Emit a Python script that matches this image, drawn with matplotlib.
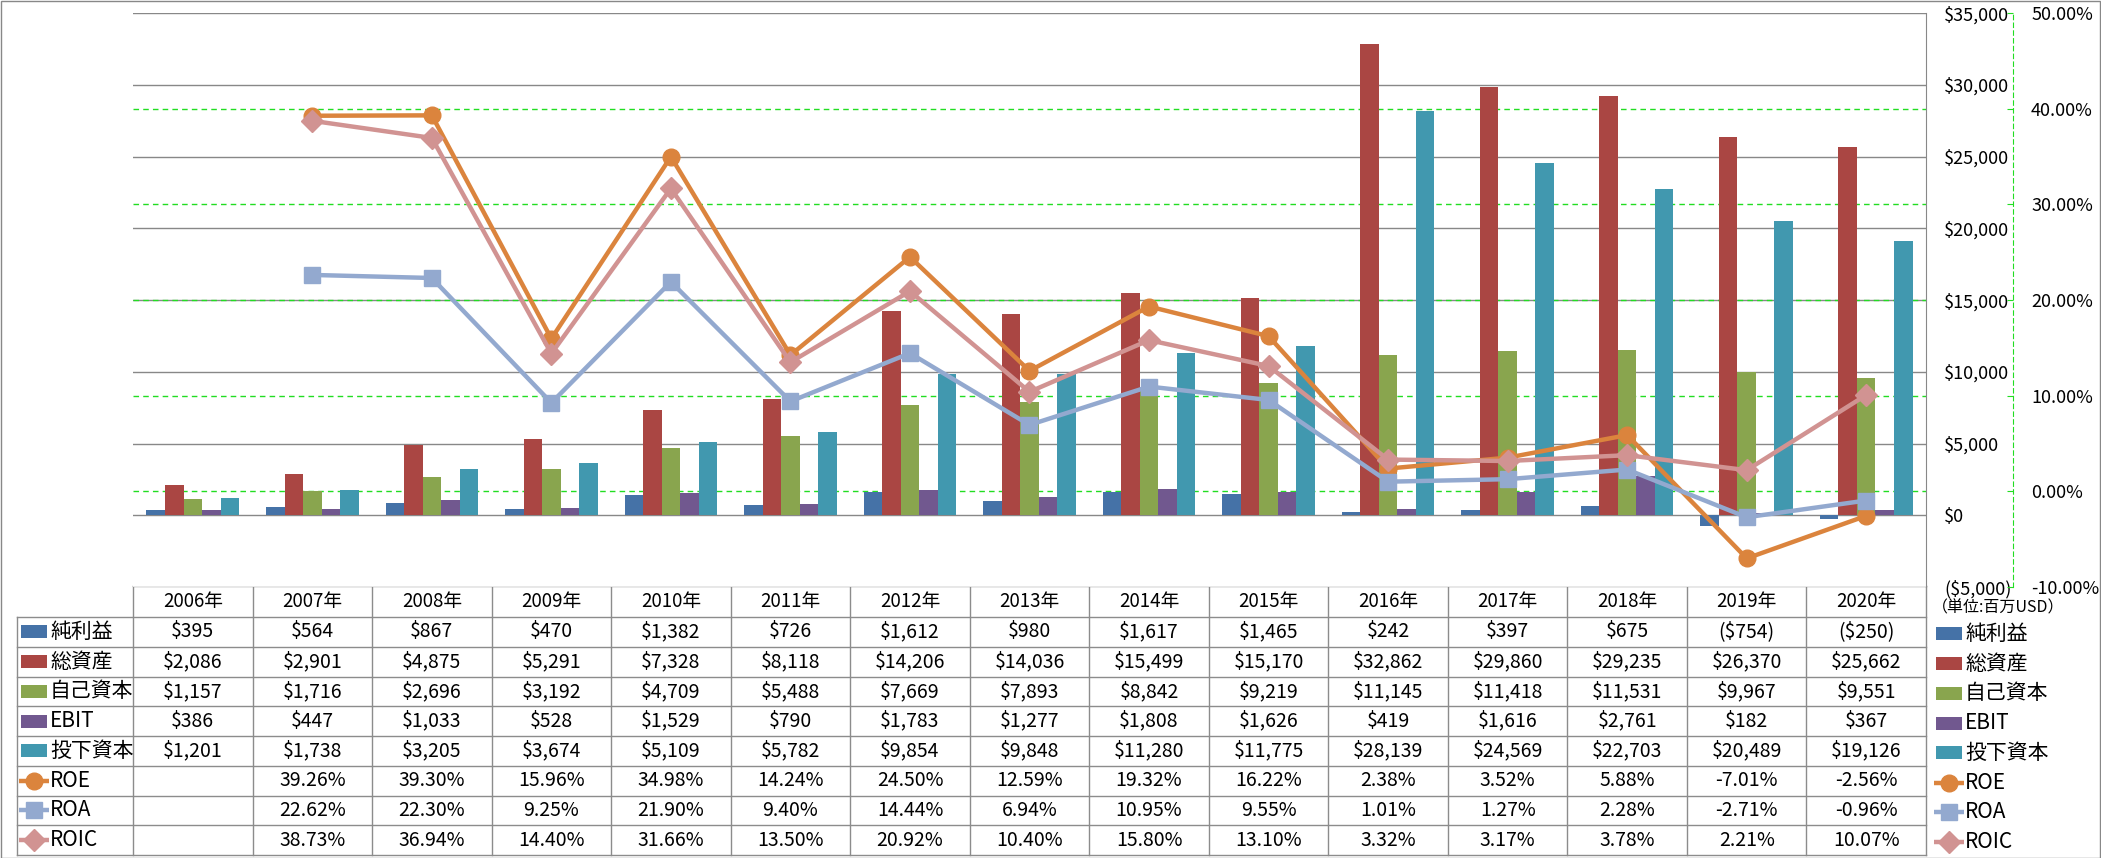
import numpy as np
import matplotlib
matplotlib.use("Agg")
import matplotlib.pyplot as plt
from matplotlib.patches import Rectangle
from matplotlib.lines import Line2D
from matplotlib.transforms import blended_transform_factory

plt.rcParams['font.family'] = ['Noto Sans CJK JP', 'DejaVu Sans']

# -------------------------------
# data (百万USD / %)
# -------------------------------
years = ["2006年", "2007年", "2008年", "2009年", "2010年", "2011年", "2012年", "2013年",
         "2014年", "2015年", "2016年", "2017年", "2018年", "2019年", "2020年"]
net_income = [395, 564, 867, 470, 1382, 726, 1612, 980, 1617, 1465, 242, 397, 675, -754, -250]
total_assets = [2086, 2901, 4875, 5291, 7328, 8118, 14206, 14036, 15499, 15170,
                32862, 29860, 29235, 26370, 25662]
equity = [1157, 1716, 2696, 3192, 4709, 5488, 7669, 7893, 8842, 9219,
          11145, 11418, 11531, 9967, 9551]
ebit = [386, 447, 1033, 528, 1529, 790, 1783, 1277, 1808, 1626, 419, 1616, 2761, 182, 367]
invested = [1201, 1738, 3205, 3674, 5109, 5782, 9854, 9848, 11280, 11775,
            28139, 24569, 22703, 20489, 19126]
roe = [None, 39.26, 39.30, 15.96, 34.98, 14.24, 24.50, 12.59, 19.32, 16.22, 2.38, 3.52, 5.88, -7.01, -2.56]
roa = [None, 22.62, 22.30, 9.25, 21.90, 9.40, 14.44, 6.94, 10.95, 9.55, 1.01, 1.27, 2.28, -2.71, -0.96]
roic = [None, 38.73, 36.94, 14.40, 31.66, 13.50, 20.92, 10.40, 15.80, 13.10, 3.32, 3.17, 3.78, 2.21, 10.07]

bar_names = ["純利益", "総資産", "自己資本", "EBIT", "投下資本"]
bar_series = [net_income, total_assets, equity, ebit, invested]
bar_colors = ["#4572A7", "#AA4643", "#89A54E", "#71588F", "#4198AF"]

line_names = ["ROE", "ROA", "ROIC"]
line_series = [roe, roa, roic]
line_colors = ["#DB843D", "#93A9CF", "#D19392"]
line_markers = ["o", "s", "D"]
line_msizes = [12, 11, 11]

GRAY = "#888888"
GREEN = "#22DD22"

def money(v):
    return f"(${-v:,.0f})" if v < 0 else f"${v:,.0f}"

def pct(v):
    return f"{v:.2f}%"

# -------------------------------
# layout (pixels)
# -------------------------------
W, H = 2101, 858
plot_l, plot_r, plot_t, plot_b = 133, 1926, 13, 587

fig = plt.figure(figsize=(W / 100, H / 100), dpi=100)
fig.patches.append(Rectangle((0.5 / W, 0.5 / H), (W - 1.5) / W, (H - 1.5) / H,
                             transform=fig.transFigure, fill=False,
                             edgecolor=GRAY, linewidth=1))

ax1 = fig.add_axes([plot_l / W, (H - plot_b) / H, (plot_r - plot_l) / W, (plot_b - plot_t) / H])
ax1.set_zorder(2)
ax2 = ax1.twinx()
ax2.set_zorder(3)

x = np.arange(len(years))
bw = 0.155
for i, (vals, col) in enumerate(zip(bar_series, bar_colors)):
    ax1.bar(x + (i - 2) * bw, vals, bw, color=col, zorder=3)

ax1.set_xlim(-0.5, len(years) - 0.5)
ax1.set_ylim(-5000, 35000)
yt = list(range(-5000, 35001, 5000))
ax1.set_yticks(yt)
ax1.set_yticklabels([money(v) for v in yt])
for v, lab in zip(yt, ax1.get_yticklabels()):
    if v < 0:
        lab.set_color("red")
ax1.yaxis.tick_right()
ax1.tick_params(axis="y", length=0, pad=13, labelsize=13)
ax1.set_xticks([])
for s in ["left", "top", "bottom"]:
    ax1.spines[s].set_visible(False)
ax1.spines["right"].set_color(GRAY)
ax1.yaxis.grid(True, color=GRAY, linewidth=1)
ax1.set_axisbelow(True)

# secondary axis
ax2.set_ylim(-10, 50)
pt = list(range(-10, 51, 10))
ax2.set_yticks(pt)
ax2.set_yticklabels([pct(v) for v in pt])
for v, lab in zip(pt, ax2.get_yticklabels()):
    if v < 0:
        lab.set_color("red")
for s in ["left", "top", "bottom"]:
    ax2.spines[s].set_visible(False)
ax2.spines["right"].set_position(("axes", (2013 - plot_l) / (plot_r - plot_l)))
ax2.spines["right"].set_color(GREEN)
ax2.spines["right"].set_linestyle((0, (4, 3)))
ax2.tick_params(axis="y", direction="in", length=4, color=GREEN, pad=13, labelsize=13)

# green dashed grid of the % axis, behind the bars
gtr = blended_transform_factory(ax1.transAxes, ax2.transData)
for v in pt[1:-1]:
    ax1.add_line(Line2D([0, 1], [v, v], transform=gtr, color=GREEN,
                        linestyle=(0, (4, 3)), linewidth=1, zorder=1))

for vals, col, mk, ms in zip(line_series, line_colors, line_markers, line_msizes):
    y = np.array([np.nan if v is None else v for v in vals], dtype=float)
    ax2.plot(x, y, color=col, linewidth=3.2, marker=mk, markersize=ms,
             markerfacecolor=col, markeredgecolor=col, zorder=4)

# -------------------------------
# data table
# -------------------------------
tax = fig.add_axes([0, 0, 1, 1])
tax.set_zorder(1)
tax.set_xlim(0, W)
tax.set_ylim(H, 0)
tax.axis("off")

colw = (plot_r - plot_l) / len(years)
head_t, head_h, row_h = 586, 31, 29.75
rows_t = head_t + head_h
n_rows = len(bar_names) + len(line_names)
lab_l = 17
lc = "#8C8C8C"

tax.plot([plot_l, plot_r], [head_t, head_t], color=lc, lw=1)
for k in range(n_rows + 1):
    yy = rows_t + k * row_h
    tax.plot([lab_l, plot_r], [yy, yy], color=lc, lw=1)
for j in range(len(years) + 1):
    xx = plot_l + j * colw
    tax.plot([xx, xx], [head_t, rows_t + n_rows * row_h], color=lc, lw=1)
tax.plot([lab_l, lab_l], [rows_t, rows_t + n_rows * row_h], color=lc, lw=1)

fs_num = 14
fs_lab = 15
for j, yr in enumerate(years):
    tax.text(plot_l + (j + 0.5) * colw, head_t + head_h / 2, yr, ha="center", va="center", fontsize=13.5)

table_rows = [(n, [money(v) for v in s]) for n, s in zip(bar_names, bar_series)]
table_rows += [(n, ["" if v is None else pct(v) for v in s]) for n, s in zip(line_names, line_series)]

def key(xl, yc, k):
    if k < len(bar_names):
        tax.add_patch(Rectangle((xl, yc - 6.5), 26, 13, color=bar_colors[k], lw=0))
    else:
        m = k - len(bar_names)
        tax.plot([xl - 2, xl + 28], [yc, yc], color=line_colors[m], lw=3.2,
                 solid_capstyle="butt")
        tax.plot([xl + 13], [yc], marker=line_markers[m], markersize=line_msizes[m],
                 color=line_colors[m])

for k, (name, cells) in enumerate(table_rows):
    yc = rows_t + (k + 0.5) * row_h
    key(21, yc, k)
    tax.text(50, yc, name, ha="left", va="center", fontsize=fs_lab)
    for j, c in enumerate(cells):
        tax.text(plot_l + (j + 0.5) * colw, yc, c, ha="center", va="center", fontsize=fs_num)
    # right-hand legend
    key(1936, yc + 2, k)
    tax.text(1965, yc + 2, name, ha="left", va="center", fontsize=fs_lab)

tax.text(1932, 608, "（単位:百万USD）", ha="left", va="center", fontsize=11.5)

fig.savefig("out.png", dpi=100)
